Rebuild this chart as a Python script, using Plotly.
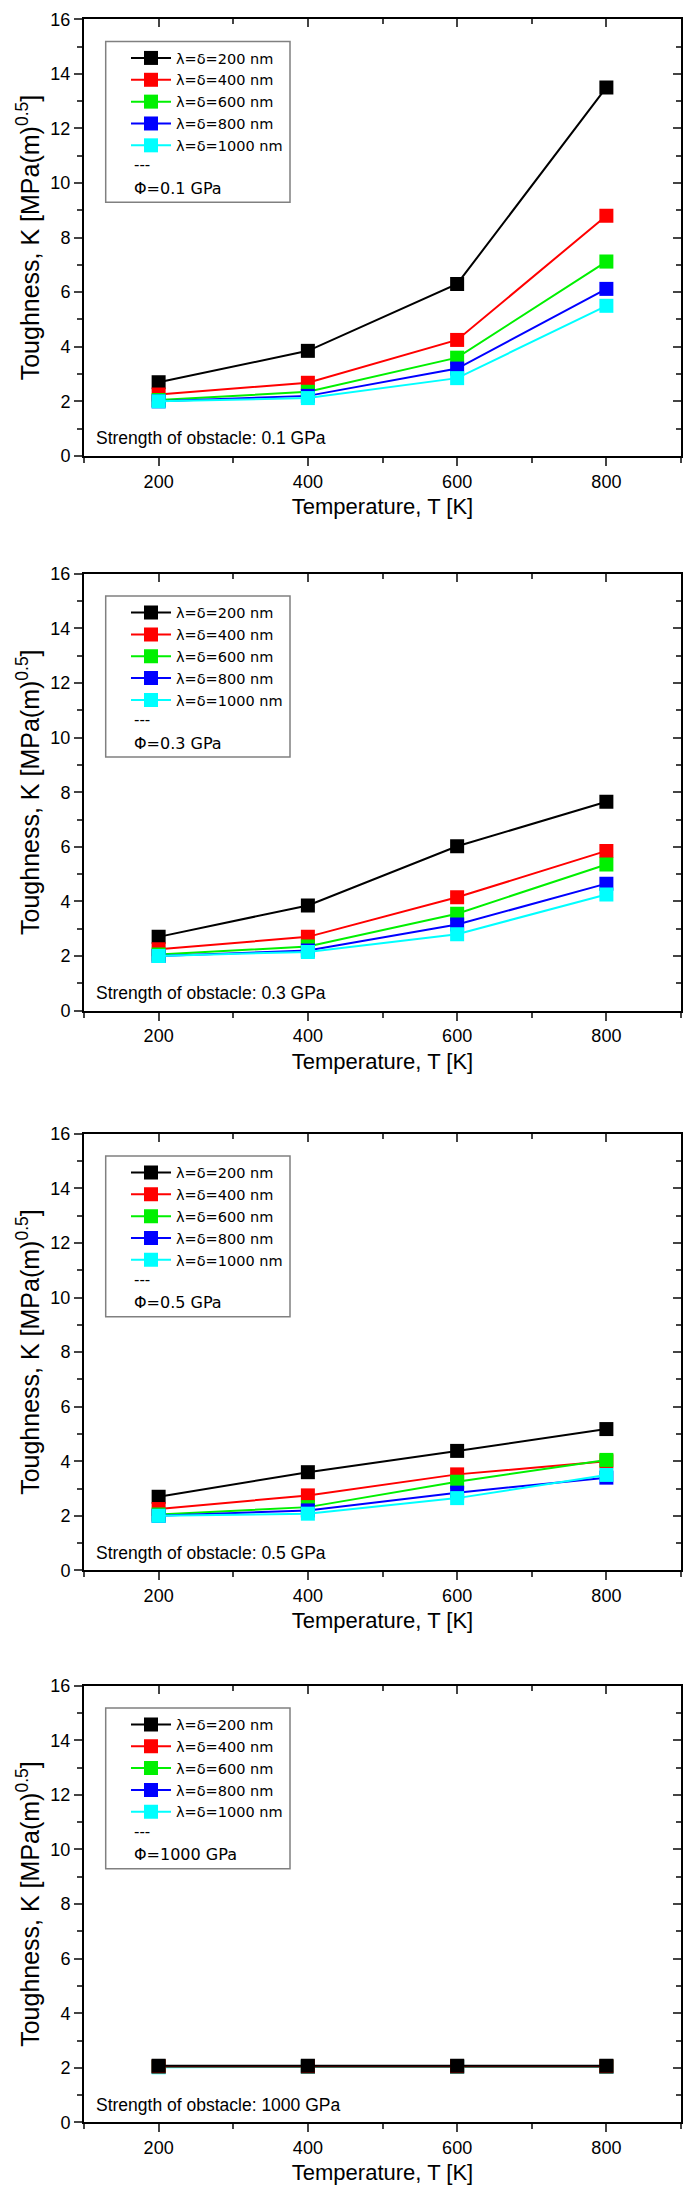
import plotly.graph_objects as go

# ---------------- data ----------------
temps = [200, 400, 600, 800]
series_names = ["λ=δ=200 nm", "λ=δ=400 nm", "λ=δ=600 nm", "λ=δ=800 nm", "λ=δ=1000 nm"]
colors = ["#000000", "#FF0000", "#00F000", "#0000FF", "#00FFFF"]
strengths = ["0.1 GPa", "0.3 GPa", "0.5 GPa", "1000 GPa"]

k_phi_0p1 = [
    [2.70, 3.85, 6.30, 13.50],
    [2.25, 2.68, 4.25, 8.80],
    [2.05, 2.35, 3.60, 7.12],
    [2.00, 2.20, 3.20, 6.12],
    [2.00, 2.12, 2.85, 5.50],
]
k_phi_0p3 = [
    [2.70, 3.85, 6.02, 7.65],
    [2.25, 2.70, 4.15, 5.85],
    [2.05, 2.35, 3.55, 5.35],
    [2.00, 2.20, 3.15, 4.65],
    [2.00, 2.15, 2.80, 4.25],
]
k_phi_0p5 = [
    [2.70, 3.60, 4.38, 5.18],
    [2.25, 2.75, 3.52, 4.00],
    [2.05, 2.32, 3.25, 4.05],
    [2.00, 2.20, 2.85, 3.40],
    [2.00, 2.08, 2.65, 3.50],
]
k_phi_1000 = [
    [2.08, 2.08, 2.08, 2.08],
    [2.06, 2.06, 2.06, 2.06],
    [2.05, 2.05, 2.05, 2.05],
    [2.04, 2.04, 2.04, 2.04],
    [2.02, 2.04, 2.04, 2.04],
]
panels = [k_phi_0p1, k_phi_0p3, k_phi_0p5, k_phi_1000]

# ---------------- layout geometry (px) ----------------
W, H = 685, 2210
px_left, px_right = 84, 681
panel_tops = [9.3, 569, 1134, 1691]
panel_h = 440.7
FONT = "Liberation Sans, Arial, sans-serif"
LFONT = "DejaVu Sans, Liberation Sans, sans-serif"

fig = go.Figure()
layout = dict(
    width=W, height=H,
    margin=dict(l=0, r=0, t=0, b=0),
    paper_bgcolor="white", plot_bgcolor="white",
    font=dict(family=FONT, color="black", size=17),
    showlegend=True,
)
shapes = []
annotations = []
plot_w = px_right - px_left

for i, data in enumerate(panels):
    n = i + 1
    sx = "" if n == 1 else str(n)
    top = panel_tops[i]
    dom_y = [1 - (top + panel_h) / H, 1 - top / H]
    dom_x = [px_left / W, px_right / W]
    legname = "legend" if n == 1 else f"legend{n}"

    order = list(range(5))
    if n == 4:
        order = order[::-1]
    for j in order:
        fig.add_trace(go.Scatter(
            x=temps, y=data[j], name=series_names[j],
            mode="lines+markers",
            line=dict(color=colors[j], width=2),
            marker=dict(symbol="square", size=14, color=colors[j]),
            xaxis=f"x{sx}", yaxis=f"y{sx}",
            legend=legname, legendrank=j + 1,
        ))

    common_x = dict(range=[100, 900], showgrid=False, zeroline=False)
    common_y = dict(range=[0, 16], showgrid=False, zeroline=False)

    layout[f"xaxis{sx}"] = dict(
        domain=dom_x, anchor=f"y{sx}", **common_x,
        tick0=200, dtick=200, ticks="outside", ticklen=8, tickwidth=1.5,
        minor=dict(dtick=100, ticks="outside", ticklen=5, tickwidth=1.5),
        showline=True, linewidth=2, linecolor="black", mirror=True,
        tickfont=dict(size=18),
        title=dict(text="Temperature, T [K]", font=dict(size=22), standoff=8),
    )
    layout[f"yaxis{sx}"] = dict(
        domain=dom_y, anchor=f"x{sx}", **common_y,
        tick0=0, dtick=2, ticks="outside", ticklen=8, tickwidth=1.5,
        minor=dict(dtick=1, ticks="outside", ticklen=5, tickwidth=1.5),
        showline=True, linewidth=2, linecolor="black", mirror=True,
        tickfont=dict(size=18),
        title=dict(text="Toughness, K [MPa(m)<sup>0.5</sup>]", font=dict(size=25), standoff=4),
    )
    # inward ticks on top and right
    tx = 4 + n
    layout[f"xaxis{tx}"] = dict(
        overlaying=f"x{sx}", side="top", anchor=f"y{sx}", **common_x,
        tick0=200, dtick=200, ticks="inside", ticklen=8, tickwidth=1.5,
        minor=dict(dtick=100, ticks="inside", ticklen=5, tickwidth=1.5),
        showticklabels=False, showline=False,
    )
    layout[f"yaxis{tx}"] = dict(
        overlaying=f"y{sx}", side="right", anchor=f"x{sx}", **common_y,
        tick0=0, dtick=2, ticks="inside", ticklen=8, tickwidth=1.5,
        minor=dict(dtick=1, ticks="inside", ticklen=5, tickwidth=1.5),
        showticklabels=False, showline=False,
    )
    fig.add_trace(go.Scatter(x=[], y=[], xaxis=f"x{tx}", yaxis=f"y{tx}",
                             showlegend=False, hoverinfo="skip"))

    # legend (no border; box drawn as a shape)
    layout[legname] = dict(
        x=126 / W, y=1 - (top + 23) / H, xanchor="left", yanchor="top",
        bgcolor="rgba(0,0,0,0)", borderwidth=0,
        font=dict(size=14.5, family=LFONT), itemwidth=40, tracegroupgap=0,
    )
    xd = f"x{sx} domain"
    yd = f"y{sx} domain"
    shapes.append(dict(
        type="rect", xref=xd, yref=yd,
        x0=(105.7 - px_left) / plot_w, x1=(290 - px_left) / plot_w,
        y0=1 - (194 - 9.3) / panel_h, y1=1 - (31.7 - 9.3) / panel_h,
        line=dict(color="#808080", width=1.5), fillcolor="rgba(0,0,0,0)",
    ))
    annotations.append(dict(
        xref=xd, yref=yd, x=(131.7 - px_left) / plot_w, y=1 - (156.7 - 9.3) / panel_h,
        text="---", showarrow=False, xanchor="left", yanchor="middle",
        font=dict(size=15, family=LFONT)))
    annotations.append(dict(
        xref=xd, yref=yd, x=(131.7 - px_left) / plot_w, y=1 - (180 - 9.3) / panel_h,
        text=f"Φ={strengths[i]}", showarrow=False, xanchor="left", yanchor="middle",
        font=dict(size=16, family=LFONT)))
    annotations.append(dict(
        xref=xd, yref=yd, x=(94 - px_left) / plot_w, y=1 - (432 - 9.3) / panel_h,
        text=f"Strength of obstacle: {strengths[i]}", showarrow=False,
        xanchor="left", yanchor="middle", font=dict(size=17.5, family=FONT)))

layout["shapes"] = shapes
layout["annotations"] = annotations
fig.update_layout(**layout)
fig.write_html("out.html", config={"displayModeBar": False},
               post_script="document.body.style.margin='0px';")
